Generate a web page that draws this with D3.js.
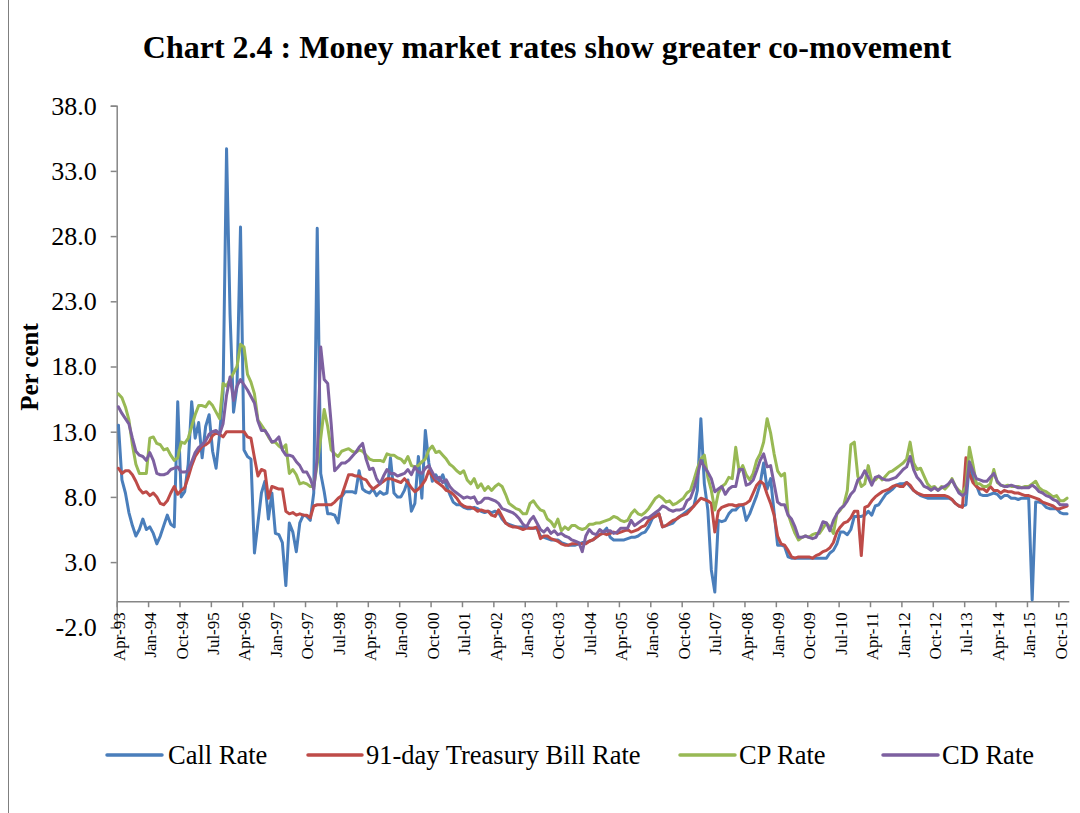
<!DOCTYPE html>
<html>
<head>
<meta charset="utf-8">
<script src="https://cdn.jsdelivr.net/npm/d3@7"></script>
<style>
  html, body { margin: 0; padding: 0; background: #ffffff; }
  svg { display: block; font-family: "Liberation Serif", "Times New Roman", serif; }
</style>
</head>
<body>
<svg id="chart" width="1080" height="813"></svg>
<script>
// ---------------- DATA (monthly, Apr-93 .. Dec-15) ----------------
const startYear = 1993, startMonth = 3; // April (0-based month)
const monthNames = ["Jan","Feb","Mar","Apr","May","Jun","Jul","Aug","Sep","Oct","Nov","Dec"];

const callRate = [
  13.5, 9.3, 8.3, 6.8, 5.8, 5.0, 5.5, 6.3, 5.5, 5.7, 5.2, 4.4,
  5.0, 5.8, 6.6, 5.9, 5.7, 15.3, 8.0, 8.4, 10.5, 15.3, 12.5, 13.7,
  11.0, 13.4, 14.3, 11.5, 10.2, 12.8, 16.0, 34.7, 22.0, 14.5, 16.5, 28.7,
  11.6, 11.1, 10.9, 3.7, 6.0, 8.3, 9.2, 6.3, 8.3, 5.2, 5.1, 4.5,
  1.2, 6.0, 5.3, 3.8, 6.0, 6.6, 6.5, 6.2, 8.3, 28.6, 9.8, 8.4,
  6.7, 6.7, 6.6, 6.0, 8.0, 8.4, 8.4, 8.4, 8.3, 10.0, 8.6, 8.4,
  8.3, 8.6, 8.1, 8.4, 8.2, 8.3, 11.0, 8.3, 8.0, 8.0, 8.5, 9.3,
  6.9, 7.5, 11.1, 7.9, 13.1, 10.6, 9.2, 9.7, 9.2, 9.7, 8.9, 8.2,
  7.6, 7.4, 7.4, 7.2, 7.1, 7.1, 7.2, 7.1, 6.9, 6.8, 6.9, 6.8,
  6.9, 6.8, 6.3, 6.0, 5.9, 5.8, 5.7, 5.7, 5.7, 5.7, 5.6, 5.6,
  5.6, 5.0, 4.9, 4.8, 4.7, 4.7, 4.7, 4.5, 4.4, 4.3, 4.3, 4.3,
  4.4, 4.5, 4.5, 4.6, 4.7, 4.9, 5.1, 5.3, 5.6, 4.9, 4.7, 4.7,
  4.7, 4.7, 4.8, 4.9, 4.9, 5.0, 5.2, 5.3, 5.7, 6.3, 6.6, 6.7,
  5.7, 5.8, 5.9, 6.0, 6.3, 6.5, 6.7, 6.9, 7.1, 7.3, 8.5, 14.0,
  9.0, 7.0, 2.4, 0.7, 6.2, 6.1, 6.2, 6.7, 7.0, 7.0, 7.3, 7.4,
  6.2, 6.7, 7.4, 8.1, 9.0, 10.6, 8.6, 9.4, 6.8, 4.3, 4.3, 4.2,
  3.4, 3.3, 3.3, 3.3, 3.3, 3.3, 3.3, 3.3, 3.3, 3.3, 3.3, 3.3,
  3.7, 3.9, 4.4, 5.3, 5.3, 5.1, 5.5, 6.5, 6.5, 6.5, 6.6, 6.9,
  6.6, 7.3, 7.4, 7.8, 8.2, 8.4, 8.6, 8.9, 9.0, 9.0, 9.1, 8.8,
  8.5, 8.3, 8.1, 8.0, 7.9, 7.9, 7.9, 7.9, 7.9, 7.9, 7.9, 7.8,
  7.5, 7.3, 7.3, 7.4, 10.6, 9.5, 8.9, 8.2, 8.1, 8.1, 8.2, 8.3,
  8.2, 7.9, 8.1, 8.1, 7.9, 7.9, 7.8, 7.9, 7.9, 7.9, 0.1, 7.6,
  7.6, 7.5, 7.2, 7.1, 7.1, 7.1, 6.8, 6.7, 6.7
];

const tbill91 = [
  10.2, 9.8, 10.0, 10.0, 9.7, 9.2, 8.6, 8.3, 8.4, 8.1, 8.3, 8.0,
  7.5, 7.4, 7.7, 8.3, 8.8, 8.2, 8.5, 8.7, 9.5, 10.4, 11.1, 11.5,
  11.9, 12.0, 12.2, 12.7, 12.9, 12.8, 12.6, 13.0, 13.0, 13.0, 13.0, 13.0,
  13.0, 12.6, 12.5, 11.0, 9.6, 10.1, 10.0, 7.9, 8.8, 8.7, 8.6, 8.6,
  6.9, 6.7, 6.8, 6.6, 6.7, 6.6, 6.6, 6.4, 7.3, 7.4, 7.4, 7.4,
  7.4, 7.4, 7.6, 7.9, 8.1, 8.9, 9.7, 9.7, 9.6, 9.6, 9.4, 9.3,
  8.9, 8.6, 8.8, 9.0, 9.2, 9.4, 9.4, 9.3, 9.2, 9.1, 9.4, 9.1,
  8.7, 8.4, 8.6, 8.9, 9.3, 10.0, 9.6, 9.2, 9.0, 8.8, 8.5, 8.4,
  8.2, 7.9, 7.5, 7.3, 7.2, 7.2, 7.1, 6.9, 7.0, 6.9, 6.9, 6.6,
  6.5, 7.0, 6.5, 6.0, 5.8, 5.7, 5.7, 5.6, 5.5, 5.6, 5.6, 5.6,
  5.7, 4.8, 5.0, 5.0, 4.8, 4.7, 4.6, 4.4, 4.3, 4.3, 4.4, 4.4,
  4.4, 4.4, 4.4, 4.6, 4.7, 4.9, 5.1, 5.2, 5.1, 5.2, 5.3, 5.2,
  5.3, 5.4, 5.5, 5.3, 5.4, 5.5, 5.7, 5.8, 6.2, 6.4, 6.5, 6.7,
  5.7, 5.8, 6.0, 6.2, 6.3, 6.5, 6.6, 6.7, 7.0, 7.3, 7.6, 7.9,
  7.8, 7.7, 7.5, 5.3, 6.9, 7.2, 7.3, 7.4, 7.4, 7.3, 7.4, 7.4,
  7.5, 7.7, 8.3, 8.9, 9.2, 9.0, 8.2, 7.5, 6.6, 5.0, 4.4, 4.3,
  3.9, 3.4, 3.3, 3.4, 3.4, 3.4, 3.4, 3.3, 3.5, 3.6, 3.8, 3.9,
  4.1, 4.5, 5.3, 5.7, 6.0, 6.1, 6.4, 6.9, 6.9, 3.5, 7.2, 7.3,
  7.7, 8.0, 8.2, 8.4, 8.5, 8.6, 8.8, 8.9, 8.8, 8.8, 9.1, 8.9,
  8.5, 8.3, 8.2, 8.1, 8.1, 8.1, 8.1, 8.1, 8.1, 8.1, 8.0, 7.8,
  7.5, 7.3, 7.2, 11.0, 9.8, 9.1, 8.8, 8.6, 8.6, 8.4, 8.8, 8.5,
  8.5, 8.3, 8.5, 8.4, 8.4, 8.3, 8.3, 8.2, 8.1, 8.1, 8.0, 7.9,
  7.8, 7.6, 7.5, 7.4, 7.3, 7.1, 7.1, 7.2, 7.3
];

const cpRate = [
  15.9, 15.6, 14.9, 13.9, 12.0, 10.5, 9.8, 9.8, 9.8, 12.5, 12.6, 12.1,
  12.0, 11.6, 11.7, 11.2, 10.8, 11.0, 12.2, 12.1, 12.5, 13.4, 14.3, 15.0,
  15.0, 14.9, 15.3, 15.0, 14.5, 14.0, 16.7, 16.5, 17.0, 17.5, 18.0, 19.7,
  19.5, 17.4, 16.8, 15.9, 13.9, 13.5, 13.1, 12.6, 12.2, 12.2, 11.9, 11.7,
  12.0, 9.8, 10.1, 9.7, 9.0, 9.1, 9.0, 8.8, 8.8, 10.5, 12.5, 14.7,
  13.4, 11.6, 11.3, 11.1, 11.5, 11.6, 11.7, 11.5, 11.4, 11.6, 11.5, 11.2,
  10.9, 10.8, 10.8, 10.8, 10.7, 11.3, 11.2, 11.2, 11.0, 10.9, 10.6, 11.1,
  10.4, 10.3, 10.4, 10.7, 10.9, 11.6, 11.9, 11.4, 11.5, 11.2, 10.9, 10.5,
  10.3, 10.0, 9.8, 10.0, 9.3, 9.0, 9.4, 8.7, 9.0, 8.5, 8.8, 8.5,
  8.8, 9.0, 8.8, 8.2, 7.5, 7.3, 7.1, 7.0, 6.7, 6.7, 7.5, 7.7,
  7.3, 7.0, 6.9, 6.3, 6.1, 5.7, 6.3, 5.4, 5.7, 5.5, 5.8, 5.8,
  5.6, 5.5, 5.6, 5.9, 5.9, 6.0, 6.0, 6.1, 6.2, 6.3, 6.5, 6.4,
  6.2, 6.1, 6.2, 6.7, 7.0, 6.7, 6.6, 6.8, 7.1, 7.5, 7.9, 8.1,
  7.9, 7.6, 7.7, 7.4, 7.5, 7.7, 7.9, 8.3, 8.5, 9.3, 10.2, 10.9,
  11.2, 9.5, 8.5, 7.0, 8.3, 8.8, 9.0, 9.5, 9.4, 11.8, 9.9, 10.4,
  9.7, 9.3, 9.8, 10.8, 11.3, 12.2, 14.0, 12.9, 11.3, 10.0, 9.6, 9.8,
  6.7, 5.9, 5.2, 4.7, 4.9, 5.0, 4.9, 5.1, 5.2, 5.2, 5.6, 6.0,
  5.7, 5.2, 6.7, 7.0, 7.4, 8.5, 12.0, 12.2, 9.6, 8.8, 9.0, 10.4,
  9.2, 9.3, 9.6, 9.3, 9.6, 9.9, 10.0, 10.2, 10.4, 10.6, 10.9, 12.2,
  10.6, 10.1, 10.2, 9.6, 9.0, 8.7, 8.8, 8.5, 8.8, 8.6, 8.9, 9.4,
  8.8, 8.5, 8.3, 8.8, 11.8, 10.5, 9.0, 9.0, 8.8, 8.8, 9.0, 10.1,
  9.1, 8.9, 8.8, 8.9, 8.8, 8.8, 8.8, 8.7, 8.8, 8.8, 9.0, 9.2,
  8.7, 8.5, 8.4, 8.2, 8.0, 8.1, 7.7, 7.7, 7.9
];

const cdRate = [
  14.9, 14.4, 14.0, 13.6, 12.5, 11.5, 11.2, 11.1, 10.8, 11.4, 10.8, 9.8,
  9.7, 9.7, 9.8, 10.1, 10.2, 10.3, 9.9, 9.9, 10.0, 10.7, 11.4, 11.8,
  12.0, 12.3, 12.8, 13.0, 13.1, 12.8, 13.6, 15.8, 17.2, 15.4, 16.5, 17.0,
  16.6, 16.2, 15.7, 15.2, 13.8, 13.1, 13.1, 12.7, 12.2, 12.3, 12.6, 11.6,
  11.2, 11.2, 11.1, 10.7, 10.4, 9.9, 9.9, 9.4, 8.6, 11.0, 19.5, 17.0,
  16.7, 13.6, 10.0, 10.3, 10.6, 10.6, 10.8, 11.1, 11.4, 11.8, 12.1, 10.9,
  10.1, 10.2, 9.4, 9.0, 9.6, 10.1, 9.8, 9.8, 9.6, 9.7, 9.8, 10.1,
  9.7, 10.3, 9.9, 9.8, 10.2, 10.4, 9.9, 9.4, 9.5, 9.1, 9.3, 8.8,
  8.5, 8.3, 8.1, 7.9, 8.0, 7.9, 8.0, 7.5, 7.6, 7.9, 7.9, 7.8,
  7.7, 7.5, 7.1, 7.0, 6.9, 6.8, 6.6, 6.3, 5.9, 5.7, 6.2, 6.5,
  6.0, 5.5, 5.3, 5.6, 5.2, 5.4, 5.1, 5.2, 5.0, 4.9, 4.7, 4.6,
  4.5, 3.8, 5.0, 5.5, 5.2, 5.1, 5.5, 5.3, 5.4, 5.4, 5.2, 5.3,
  5.6, 5.6, 5.6, 6.2, 5.8, 6.0, 6.2, 6.4, 6.4, 6.6, 6.8, 7.0,
  7.3, 7.2, 7.0, 6.9, 7.0, 7.0, 7.1, 7.7, 7.9, 8.6, 9.6, 10.8,
  10.3, 9.9, 9.4, 8.4, 8.6, 8.8, 8.2, 8.6, 8.8, 8.8, 10.1, 10.1,
  8.9, 9.0, 9.3, 10.0, 10.8, 11.3, 10.3, 10.4, 9.0, 7.6, 7.4, 7.4,
  6.6, 6.3, 5.7, 4.9, 4.9, 5.0, 4.9, 4.8, 4.9, 5.4, 6.1, 6.0,
  5.4, 6.2, 6.7, 7.1, 7.3, 7.7, 8.2, 8.5, 9.3, 9.5, 10.0, 9.5,
  8.9, 9.5, 9.6, 9.4, 9.3, 9.3, 9.4, 9.5, 9.8, 10.1, 10.3, 11.1,
  10.1, 9.5, 9.2, 8.8, 8.7, 8.5, 8.7, 8.5, 8.7, 8.8, 9.0, 9.3,
  8.8, 8.3, 8.1, 8.3, 10.7, 10.0, 9.4, 9.3, 9.2, 9.2, 9.5, 9.8,
  9.2, 8.9, 8.8, 8.8, 8.9, 8.8, 8.7, 8.7, 8.7, 8.7, 8.9, 8.7,
  8.4, 8.3, 8.1, 8.0, 7.8, 7.7, 7.4, 7.4, 7.4
];

const xTickLabels = ["Apr-93","Jan-94","Oct-94","Jul-95","Apr-96","Jan-97","Oct-97","Jul-98",
  "Apr-99","Jan-00","Oct-00","Jul-01","Apr-02","Jan-03","Oct-03","Jul-04","Apr-05","Jan-06",
  "Oct-06","Jul-07","Apr-08","Jan-09","Oct-09","Jul-10","Apr-11","Jan-12","Oct-12","Jul-13",
  "Apr-14","Jan-15","Oct-15"];
const yTicks = [-2, 3, 8, 13, 18, 23, 28, 33, 38];
const yTickLabels = ["-2.0","3.0","8.0","13.0","18.0","23.0","28.0","33.0","38.0"];

const seriesNames = ["Call Rate", "91-day Treasury Bill Rate", "CP Rate", "CD Rate"];
const seriesColors = ["#4A7EBB", "#BE4B48", "#98B954", "#7D60A0"];
const seriesData = [callRate, tbill91, cpRate, cdRate];

// ---------------- CHART ----------------
const svg = d3.select("#chart");
const W = 1080, H = 813;
const n = callRate.length;
const categories = d3.range(n).map(i => {
  const m = startMonth + i;
  const yr = startYear + Math.floor(m / 12);
  return monthNames[m % 12] + "-" + String(yr % 100).padStart(2, "0");
});

const plotLeft = 116.7, plotRight = 1068.8, plotTop = 105.7, plotBottom = 627.3;

const x = d3.scaleLinear().domain([-0.5, n - 0.5]).range([plotLeft, plotRight]);
const y = d3.scaleLinear().domain([-2, 38]).range([plotBottom, plotTop]);

// outer chart border
svg.append("rect").attr("x", 8.5).attr("y", -20).attr("width", W + 20).attr("height", H + 40)
  .attr("fill", "none").attr("stroke", "#7f7f7f").attr("stroke-width", 1);

// title
svg.append("text").attr("x", 547).attr("y", 58).attr("text-anchor", "middle")
  .attr("font-size", 32).attr("font-weight", "bold").attr("fill", "#000")
  .text("Chart 2.4 : Money market rates show greater co-movement");

// y axis
const yAxis = d3.axisLeft(y).tickValues(yTicks).tickFormat((d, i) => yTickLabels[i]).tickSize(6).tickPadding(14);
const gy = svg.append("g").attr("transform", `translate(${plotLeft},0)`).call(yAxis);
gy.select(".domain").attr("stroke", "#868686").attr("stroke-width", 1.5);
gy.selectAll(".tick line").attr("stroke", "#868686").attr("stroke-width", 1.5);
gy.selectAll(".tick text").attr("font-size", 26).attr("font-family", "Liberation Serif").attr("fill", "#000");

// y title
svg.append("text").attr("transform", `translate(38,367) rotate(-90)`).attr("text-anchor", "middle")
  .attr("font-size", 25).attr("font-weight", "bold").attr("fill", "#000").text("Per cent");

// x axis at value 0 : tick marks at category boundaries
const labelIdx = xTickLabels.map(l => categories.indexOf(l));
const xAxisTicks = d3.axisBottom(x).tickValues(labelIdx.map(i => i - 0.5)).tickFormat("").tickSize(6).tickSizeOuter(0);
const gx = svg.append("g").attr("transform", `translate(0,${y(0)})`).call(xAxisTicks);
gx.select(".domain").attr("stroke", "#868686").attr("stroke-width", 1.5);
gx.selectAll(".tick line").attr("stroke", "#868686").attr("stroke-width", 1.5);

// x labels (rotated)
const xAxisLabels = d3.axisBottom(x).tickValues(labelIdx).tickSize(0).tickSizeOuter(0)
  .tickFormat((d, i) => xTickLabels[i]);
const gxl = svg.append("g").attr("transform", `translate(0,${y(0)})`).call(xAxisLabels);
gxl.select(".domain").remove();
gxl.selectAll(".tick text")
  .attr("font-size", 17).attr("font-family", "Liberation Serif").attr("fill", "#000")
  .attr("text-anchor", "end").attr("transform", "rotate(-90)")
  .attr("x", -11).attr("y", 0).attr("dy", "0.35em");

// lines
const line = d3.line().x((d, i) => x(i)).y(d => y(d));
seriesData.forEach((s, k) => {
  svg.append("path").datum(s).attr("d", line)
    .attr("fill", "none").attr("stroke", seriesColors[k]).attr("stroke-width", 3)
    .attr("stroke-linejoin", "round").attr("stroke-linecap", "round");
});

// legend
const legendItems = [
  {x0: 107, x1: 162, tx: 168},
  {x0: 308, x1: 362, tx: 366},
  {x0: 680, x1: 735, tx: 739},
  {x0: 883, x1: 938, tx: 942}
];
const ly = 755;
const lg = svg.append("g");
legendItems.forEach((it, k) => {
  lg.append("line").attr("x1", it.x0).attr("x2", it.x1).attr("y1", ly).attr("y2", ly)
    .attr("stroke", seriesColors[k]).attr("stroke-width", 3.5).attr("stroke-linecap", "round");
  lg.append("text").attr("x", it.tx).attr("y", ly).attr("dy", "0.35em")
    .attr("font-size", 26.5).attr("fill", "#000").text(seriesNames[k]);
});
</script>
</body>
</html>
